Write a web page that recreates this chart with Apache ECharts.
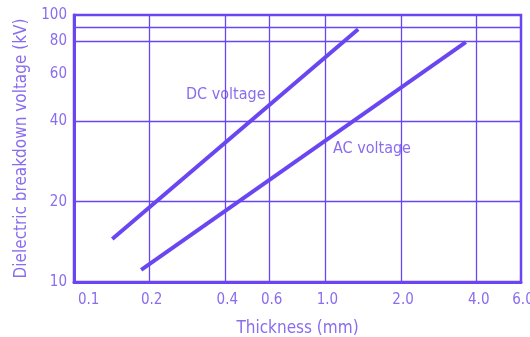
<!DOCTYPE html>
<html>
<head>
<meta charset="utf-8">
<script src="https://cdn.jsdelivr.net/npm/echarts@6/dist/echarts.min.js"></script>
<style>
  html, body { margin: 0; padding: 0; background: #fff; }
  #chart { width: 530px; height: 337px; }
</style>
</head>
<body>
<div id="chart"></div>
<script>
// thickness (mm) vs breakdown voltage (kV)
var dcThickness = [0.142, 1.35];
var dcVoltage = [14.5, 88.4];
var acThickness = [0.185, 3.62];
var acVoltage = [11.1, 79.2];

var xTickValues = [0.1, 0.2, 0.4, 0.6, 1.0, 2.0, 4.0, 6.0];
var xTickLabels = ['0.1', '0.2', '0.4', '0.6', '1.0', '2.0', '4.0', '6.0'];
var xGridValues = [0.2, 0.4, 0.6, 1.0, 2.0, 4.0];
var yTickValues = [10, 20, 40, 60, 80, 100];
var yGridValues = [20, 40, 80, 90];

var lineColor = '#6a46f2';
var textColor = '#8a6cee';
var fontFam = "'Liberation Sans Narrow', 'DejaVu Sans Condensed', sans-serif";

function pairs(xs, ys) {
    return xs.map(function (x, i) { return [x, ys[i]]; });
}

// grid lines (no line at 60 in the original)
var gridLines = [];
xGridValues.forEach(function (v) { gridLines.push({ xAxis: v }); });
yGridValues.forEach(function (v) { gridLines.push({ yAxis: v }); });

var chart = echarts.init(document.getElementById('chart'));
chart.setOption({
    animation: false,
    grid: {
        left: 74, right: 9, top: 15, bottom: 55,
        outerBoundsMode: 'none',
        show: true, borderColor: lineColor, borderWidth: 2.5
    },
    xAxis: {
        type: 'log', logBase: 10, min: 0.1, max: 6,
        name: 'Thickness (mm)', nameLocation: 'middle', nameGap: 38,
        nameTextStyle: { color: textColor, fontSize: 17, fontFamily: fontFam },
        axisLine: { lineStyle: { color: lineColor, width: 3 } },
        axisTick: { show: false },
        splitLine: { show: false },
        axisLabel: {
            customValues: xTickValues,
            alignMinLabel: 'left',
            padding: [0, 0, 0, 4],
            color: textColor, fontSize: 15, fontFamily: fontFam, margin: 11,
            formatter: function (v) {
                var i = xTickValues.indexOf(+(+v).toFixed(3));
                return i >= 0 ? xTickLabels[i] : '';
            }
        }
    },
    yAxis: {
        type: 'log', logBase: 10, min: 10, max: 100,
        name: 'Dielectric breakdown voltage (kV)', nameLocation: 'middle', nameGap: 32,
        nameTextStyle: { color: textColor, fontSize: 17, fontFamily: fontFam },
        axisLine: { lineStyle: { color: lineColor, width: 3 } },
        axisTick: { show: false },
        splitLine: { show: false },
        axisLabel: {
            customValues: yTickValues,
            color: textColor, fontSize: 15, fontFamily: fontFam, margin: 7
        }
    },
    graphic: [
        { type: 'text', left: 186, top: 87, style: { text: 'DC voltage', fill: textColor, fontSize: 16, fontFamily: fontFam } },
        { type: 'text', left: 333, top: 141, style: { text: 'AC voltage', fill: textColor, fontSize: 16, fontFamily: fontFam } }
    ],
    series: [
        {
            name: 'grid', type: 'line', data: [],
            markLine: {
                silent: true, symbol: 'none', label: { show: false },
                lineStyle: { color: lineColor, width: 1.3, type: 'solid' },
                data: gridLines
            }
        },
        {
            name: 'DC voltage', type: 'line', data: pairs(dcThickness, dcVoltage),
            showSymbol: false, lineStyle: { color: lineColor, width: 4 }
        },
        {
            name: 'AC voltage', type: 'line', data: pairs(acThickness, acVoltage),
            showSymbol: false, lineStyle: { color: lineColor, width: 4 }
        }
    ]
});
</script>
</body>
</html>
